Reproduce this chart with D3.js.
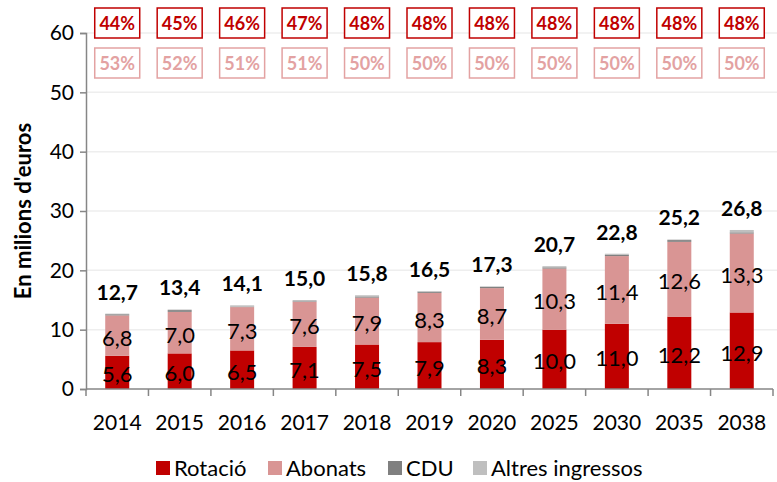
<!DOCTYPE html>
<html>
<head>
<meta charset="utf-8">
<script src="https://cdn.jsdelivr.net/npm/d3@7"></script>
<style>
  body { margin: 0; background: #fff; }
  svg { font-family: Lato, "Liberation Sans", sans-serif; }
</style>
</head>
<body>
<svg width="777" height="482"></svg>
<script>
// chart data
var years = ["2014", "2015", "2016", "2017", "2018", "2019", "2020", "2025", "2030", "2035", "2038"];
var rotacio = [5.6, 6.0, 6.5, 7.1, 7.5, 7.9, 8.3, 10.0, 11.0, 12.2, 12.9];
var abonats = [6.8, 7.0, 7.3, 7.6, 7.9, 8.3, 8.7, 10.3, 11.4, 12.6, 13.3];
var cdu = [0.2, 0.3, 0.1, 0.1, 0.2, 0.2, 0.2, 0.2, 0.2, 0.3, 0.2];
var altres = [0.1, 0.1, 0.2, 0.2, 0.2, 0.1, 0.1, 0.2, 0.2, 0.1, 0.4];
var totals = [12.7, 13.4, 14.1, 15.0, 15.8, 16.5, 17.3, 20.7, 22.8, 25.2, 26.8];
var pctRotacio = ["44%", "45%", "46%", "47%", "48%", "48%", "48%", "48%", "48%", "48%", "48%"];
var pctAbonats = ["53%", "52%", "51%", "51%", "50%", "50%", "50%", "50%", "50%", "50%", "50%"];
var seriesNames = ["Rotació", "Abonats", "CDU", "Altres ingressos"];
var yTicks = [0, 10, 20, 30, 40, 50, 60];

var colors = ["#c00000", "#d99594", "#808080", "#bfbfbf"];
var fmt = function (v) { return v.toFixed(1).replace(".", ","); };

var svg = d3.select("svg");
var mLeft = 86, mRight = 773, mTop = 33, mBottom = 389;

var x = d3.scaleBand().domain(years).range([mLeft, mRight]).paddingInner(0).paddingOuter(0);
var y = d3.scaleLinear().domain([0, 60]).range([mBottom, mTop]);
var barW = 24;

// table for the stack
var table = years.map(function (yr, i) {
    return { year: yr, "Rotació": rotacio[i], "Abonats": abonats[i], "CDU": cdu[i], "Altres ingressos": altres[i] };
});
var stacked = d3.stack().keys(seriesNames)(table);

// gridlines
svg.append("g").selectAll("line")
    .data(yTicks.slice(1))
    .enter().append("line")
    .attr("x1", mLeft).attr("x2", 777)
    .attr("y1", function (d) { return y(d); })
    .attr("y2", function (d) { return y(d); })
    .attr("stroke", "#eeeeee").attr("stroke-width", 1.5);

// bars
svg.append("g").selectAll("g")
    .data(stacked)
    .enter().append("g")
    .attr("fill", function (d, i) { return colors[i]; })
    .selectAll("rect")
    .data(function (d) { return d; })
    .enter().append("rect")
    .attr("x", function (d) { return x(d.data.year) + x.bandwidth() / 2 - barW / 2; })
    .attr("width", barW)
    .attr("y", function (d) { return y(d[1]); })
    .attr("height", function (d) { return y(d[0]) - y(d[1]); });

// y axis
var yAxis = svg.append("g")
    .attr("transform", "translate(" + mLeft + ",0)")
    .call(d3.axisLeft(y).tickValues(yTicks).tickSize(6).tickPadding(6));
yAxis.select(".domain").attr("stroke", "#868686").attr("stroke-width", 1.5);
yAxis.selectAll(".tick line").attr("stroke", "#868686").attr("stroke-width", 1.5);
yAxis.selectAll(".tick text").attr("font-size", 21).attr("fill", "#000")
    .attr("font-family", "Lato, 'Liberation Sans', sans-serif");

// x axis with ticks between categories
var xg = svg.append("g");
xg.append("line")
    .attr("x1", mLeft).attr("x2", mRight)
    .attr("y1", mBottom).attr("y2", mBottom)
    .attr("stroke", "#868686").attr("stroke-width", 1.5);
xg.selectAll(".sep")
    .data(years.concat(["end"]))
    .enter().append("line")
    .attr("x1", function (d, i) { return mLeft + i * x.bandwidth(); })
    .attr("x2", function (d, i) { return mLeft + i * x.bandwidth(); })
    .attr("y1", mBottom).attr("y2", mBottom + 7)
    .attr("stroke", "#868686").attr("stroke-width", 1.5);
xg.selectAll("text")
    .data(years)
    .enter().append("text")
    .attr("x", function (d) { return x(d) + x.bandwidth() / 2; })
    .attr("y", 430)
    .attr("text-anchor", "middle")
    .attr("font-size", 21)
    .text(function (d) { return d; });

// value labels inside segments
var labels = svg.append("g").attr("font-size", 22).attr("text-anchor", "middle").attr("fill", "#000");
[0, 1].forEach(function (s) {
    labels.selectAll(".s" + s)
        .data(stacked[s])
        .enter().append("text")
        .attr("x", function (d) { return x(d.data.year) + x.bandwidth() / 2; })
        .attr("y", function (d) { return (y(d[0]) + y(d[1])) / 2 + 10; })
        .text(function (d) { return fmt(d[1] - d[0]); });
});

// totals
svg.append("g").selectAll("text")
    .data(totals)
    .enter().append("text")
    .attr("x", function (d, i) { return x(years[i]) + x.bandwidth() / 2; })
    .attr("y", function (d) { return y(d) - 14; })
    .attr("text-anchor", "middle")
    .attr("font-size", 21).attr("font-weight", "bold")
    .text(function (d) { return fmt(d); });

// percentage boxes
function boxes(data, y0, stroke, fill) {
    var g = svg.append("g");
    var b = g.selectAll("g").data(data).enter().append("g")
        .attr("transform", function (d, i) { return "translate(" + (x(years[i]) + x.bandwidth() / 2) + "," + y0 + ")"; });
    b.append("rect")
        .attr("x", -22.5).attr("y", 0).attr("width", 45).attr("height", 30)
        .attr("fill", "#fff").attr("stroke", stroke).attr("stroke-width", 1.5);
    b.append("text")
        .attr("y", 22).attr("text-anchor", "middle")
        .attr("font-size", 18).attr("font-weight", "bold").attr("fill", fill)
        .text(function (d) { return d; });
}
boxes(pctRotacio, 8, "#c00000", "#c00000");
boxes(pctAbonats, 48, "#e3a2a2", "#e3a2a2");

// y axis title
svg.append("text")
    .attr("transform", "translate(31,211) rotate(-90)")
    .attr("text-anchor", "middle")
    .attr("font-size", 22).attr("font-weight", "bold")
    .text("En milions d'euros");

// legend
var legX = [156, 268, 388, 473];
var leg = svg.append("g").selectAll("g")
    .data(seriesNames)
    .enter().append("g")
    .attr("transform", function (d, i) { return "translate(" + legX[i] + ",461)"; });
leg.append("rect").attr("width", 14).attr("height", 14)
    .attr("fill", function (d, i) { return colors[i]; });
leg.append("text").attr("x", 18).attr("y", 15)
    .attr("font-size", 22)
    .text(function (d) { return d; });
</script>
</body>
</html>
